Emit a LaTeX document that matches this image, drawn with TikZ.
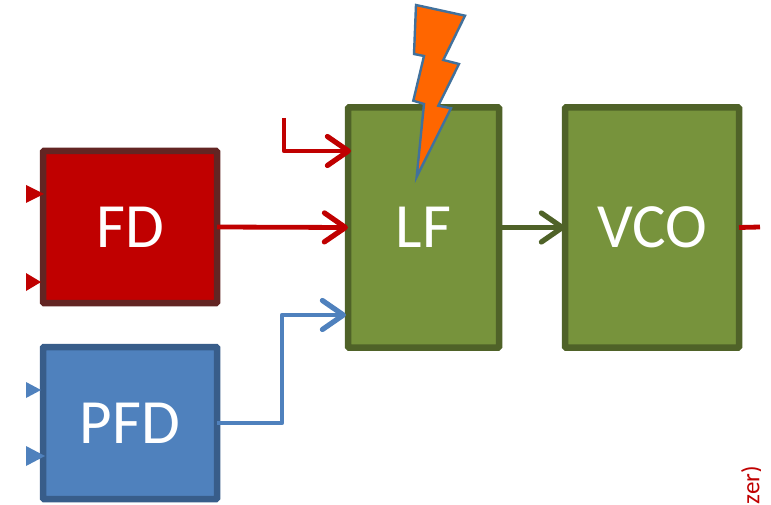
\documentclass[tikz,border=0pt]{standalone}
\usepackage{fontspec}
\setmainfont{Carlito}
\usetikzlibrary{arrows.meta}
\definecolor{rd}{HTML}{C00000}
\definecolor{rdb}{HTML}{632523}
\definecolor{bl}{HTML}{4F81BD}
\definecolor{blb}{HTML}{385D8A}
\definecolor{gr}{HTML}{77933C}
\definecolor{grb}{HTML}{4F6228}
\definecolor{org}{HTML}{FF6600}
\definecolor{boltb}{HTML}{41719C}
\tikzset{
  blockbox/.style={draw, line width=6.5pt, rounded corners=1pt, outer sep=0pt, inner sep=0pt,
    text=white, font=\fontsize{63}{63}\selectfont},
  redbox/.style={blockbox, fill=rd, draw=rdb, minimum width=174pt, minimum height=152pt},
  bluebox/.style={blockbox, fill=bl, draw=blb, minimum width=174pt, minimum height=152pt},
  greenbox/.style={blockbox, fill=gr, draw=grb, minimum height=240pt},
  conn/.style={line width=4.8pt, line join=round, -{Straight Barb[length=21pt,width=29pt,line width=5.2pt,round]}},
  plainconn/.style={line width=4.8pt}
}
\begin{document}
\begin{tikzpicture}[x=1pt,y=-1pt]
\useasboundingbox (0,0) rectangle (771,505);
\fill[white] (0,0) rectangle (771,505);
\node[redbox] (fd) at (130,227) {FD};
\node[bluebox] (pfd) at (130,423) {PFD};
\node[greenbox, minimum width=151pt] (lf) at (423.5,227.5) {LF};
\node[greenbox, minimum width=174pt] (vco) at (652,227.5) {VCO};
% free ends
\coordinate (lfa) at (351,151);
\coordinate (lfastart) at (284,118);
\coordinate (lfc) at (346,315);
\coordinate (vcoout) at (760,227);
% input stubs
\fill[rd] (26,185) -- (44,194) -- (26,203) -- cycle;
\fill[rd] (26,273) -- (41,282) -- (26,291) -- cycle;
\fill[bl] (26,382) -- (41,390) -- (26,398) -- cycle;
\fill[bl] (26,446) -- (45,456) -- (26,466) -- cycle;
% connectors
\draw[conn, rd] (lfastart) |- (lfa);
\draw[conn, rd] (fd.east) -- (lf.west);
\draw[conn, bl] (pfd.east) -| (282,315) -- (lfc);
\draw[conn, grb] (lf.east) -- (vco.west);
\draw[plainconn, rd] (vco.east) -- (vcoout);
% bolt
\draw[fill=org, draw=boltb, line width=2.4pt, line join=miter]
  (416,5) -- (465,15.7) -- (443.3,60) -- (459,64) -- (438.3,105.7) -- (451,108.3)
  -- (416.7,176.7) -- (424,104) -- (413.3,100.7) -- (424,56) -- (414,54) -- cycle;
% label
\begin{scope}
\clip (730,460) rectangle (760,505);
\node[rotate=90, anchor=north east, inner sep=0pt, text=rd, font=\fontsize{25}{25}\selectfont] (lbl) at (741,466) {zer)};
\end{scope}
\end{tikzpicture}
\end{document}
